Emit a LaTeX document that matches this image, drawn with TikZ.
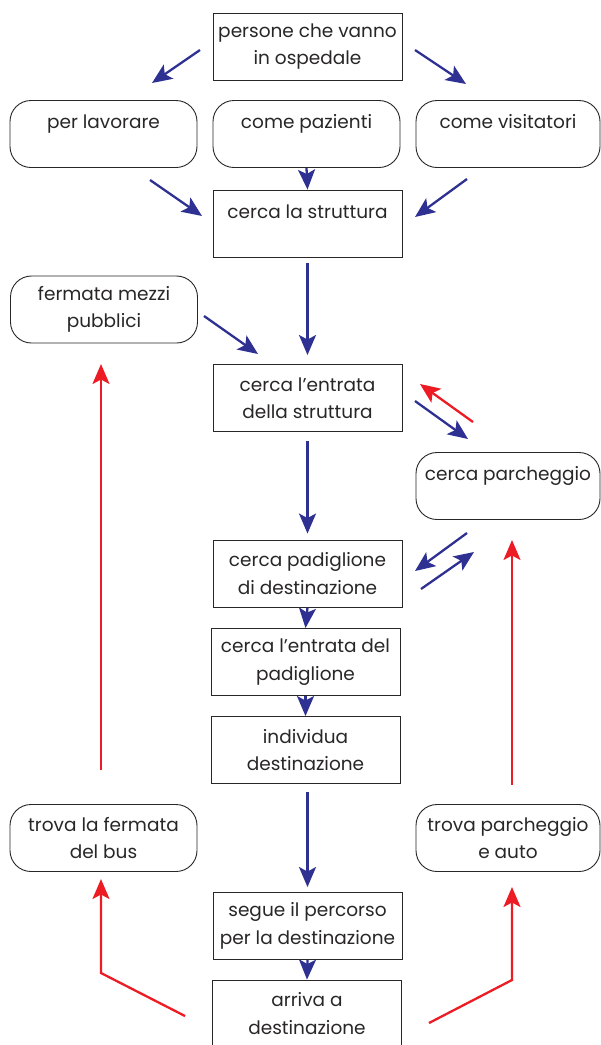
\documentclass[tikz,border=0pt]{standalone}
\usepackage{fontspec}
\setmainfont{Poppins}
\usepackage{tikz}
\usetikzlibrary{arrows.meta,calc}
\definecolor{flowblue}{RGB}{46,49,146}
\definecolor{flowred}{RGB}{237,28,36}
\definecolor{inkgray}{RGB}{40,38,38}

\begin{document}
\begin{tikzpicture}[x=1pt,y=-1pt,
  every node/.style={font=\fontsize{18.5}{27.5}\selectfont,text=inkgray,align=center},
  box/.style={draw=inkgray,line width=0.9pt,minimum width=189pt,minimum height=67pt,inner sep=0pt},
  pill/.style={box,rounded corners=21pt,minimum width=187pt},
  blu/.style={draw=flowblue,line width=2.3pt,-{Stealth[length=20pt,width=17pt,inset=4.5pt]}},
  rosso/.style={draw=flowred,line width=2.3pt,-{Stealth[length=20pt,width=17pt,inset=4.5pt]}}]
  \useasboundingbox (0,0) rectangle (601,1045);

  \draw (307.5,46.5) node[box] (persone) {persone che vanno\\in ospedale};
    \draw (103.5,134) node[pill] (lavoro) {\raisebox{-3pt}{per lavorare}\\~};
    \draw (306.5,134) node[pill] (pazienti) {\raisebox{-3pt}{come pazienti}\\~};
    \draw (508,134) node[pill,minimum width=184pt] (visite) {\raisebox{-3pt}{come visitatori}\\~};
  \draw (307.5,223.5) node[box] (struttura) {\raisebox{-3pt}{cerca la struttura}\\~};
    \draw (104,309.5) node[pill] (mezzi) {fermata mezzi\\pubblici};
  \draw (307.5,398) node[box] (entrata) {cerca l’entrata\\della struttura};
    \draw (508,486) node[pill,minimum width=184pt] (parcheggio) {\raisebox{-3pt}{cerca parcheggio}\\~};
  \draw (307.5,573.5) node[box] (padiglione) {cerca padiglione\\di destinazione};
  \draw (305.5,662) node[box] (entrataPad) {cerca l’entrata del\\padiglione};
  \draw (305.5,750) node[box] (individua) {individua\\destinazione};
    \draw (103.5,838) node[pill] (fermataBus) {trova la fermata\\del bus};
    \draw (508,838) node[pill,minimum width=184pt] (trovaAuto) {trova parcheggio\\e auto};
  \draw (307.5,926) node[box] (segue) {segue il percorso\\per la destinazione};
  \draw (307,1013.5) node[box] (arriva) {arriva a\\destinazione};

  \coordinate (aL1) at (200,50);   \coordinate (aL2) at (152,83);
  \coordinate (aR1) at (415,50);   \coordinate (aR2) at (466,84);
  \coordinate (bL1) at (150,180);  \coordinate (bL2) at (202,216);
  \coordinate (bR1) at (467,179);  \coordinate (bR2) at (415,217);
  \coordinate (cM1) at (204,316);  \coordinate (cM2) at (258,354);
  \coordinate (pkA1) at (415,401); \coordinate (pkA2) at (468,439);
  \coordinate (pkB1) at (473,422); \coordinate (pkB2) at (420,384);
  \coordinate (pkC1) at (467,533); \coordinate (pkC2) at (415,571);
  \coordinate (pkD1) at (421,589); \coordinate (pkD2) at (474,552);
  \coordinate (busUp1) at (101,770); \coordinate (busUp2) at (101,364);
  \coordinate (autoUp1) at (512,785); \coordinate (autoUp2) at (512,540);
  \coordinate (retL1) at (185,1016); \coordinate (retL2) at (101,973); \coordinate (retL3) at (101,879);
  \coordinate (retR1) at (429,1023); \coordinate (retR2) at (512,980); \coordinate (retR3) at (512,887);

  \path (aL1) edge[blu] (aL2);
  \path (aR1) edge[blu] (aR2);
  \path (bL1) edge[blu] (bL2);
  \path (pazienti.south) edge[blu] (struttura.north);
  \path (bR1) edge[blu] (bR2);
  \path (struttura.south) edge[blu,shorten <=6pt,shorten >=9pt] (entrata.north);
  \path (cM1) edge[blu] (cM2);
  \path (pkA1) edge[blu] (pkA2);
  \path (pkB1) edge[rosso] (pkB2);
  \path (entrata.south) edge[blu,shorten <=9pt,shorten >=6pt] (padiglione.north);
  \path (pkC1) edge[blu] (pkC2);
  \path (pkD1) edge[blu] (pkD2);
  \path (padiglione.south) edge[blu] (entrataPad.north);
  \path (entrataPad.south) edge[blu] (individua.north);
  \path (segue.north |- individua.south) edge[blu,shorten <=8pt,shorten >=5pt] (segue.north);
  \path (segue.south) edge[blu] (arriva.north);

  \path (busUp1) edge[rosso] (busUp2);
  \path (autoUp1) edge[rosso] (autoUp2);
  \draw[rosso] (retL1) -- (retL2) -- (retL3);
  \draw[rosso] (retR1) -- (retR2) -- (retR3);

\end{tikzpicture}
\end{document}
